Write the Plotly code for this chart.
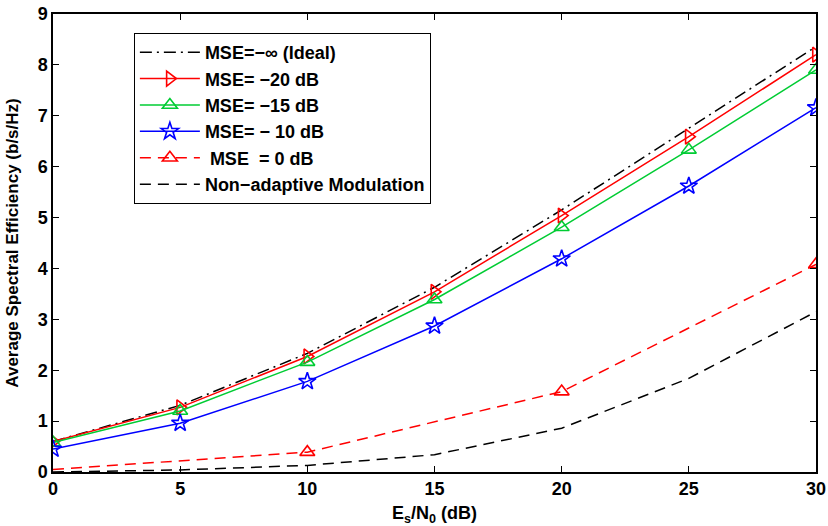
import plotly.graph_objects as go

snr = [0, 5, 10, 15, 20, 25, 30]
ideal = [0.60, 1.31, 2.33, 3.63, 5.15, 6.76, 8.36]
mse_m20 = [0.60, 1.27, 2.27, 3.54, 5.04, 6.59, 8.20]
mse_m15 = [0.58, 1.20, 2.16, 3.39, 4.81, 6.33, 7.90]
mse_m10 = [0.45, 0.96, 1.78, 2.87, 4.19, 5.62, 7.16]
snr_0db = [0, 10, 20, 30]
mse_0 = [0.05, 0.39, 1.58, 4.08]
nonadapt = [0.0, 0.04, 0.13, 0.34, 0.86, 1.84, 3.15]

legend_names = [
    "MSE=\u2212\u221e (Ideal)",
    "MSE= \u221220 dB",
    "MSE= \u221215 dB",
    "MSE= \u2212 10 dB",
    "&nbsp;MSE&nbsp;&nbsp;= 0 dB",
    "Non\u2212adaptive Modulation",
]

FONT = "Liberation Sans"
GREEN = "#00cc33"
MS = 13

fig = go.Figure()
fig.add_trace(go.Scatter(x=snr, y=ideal, mode="lines", name=legend_names[0],
                         line=dict(color="black", width=1.5, dash="12px,5px,2px,5px")))
fig.add_trace(go.Scatter(x=snr, y=mse_m20, mode="lines+markers", name=legend_names[1],
                         line=dict(color="#ff0000", width=1.5),
                         marker=dict(symbol="triangle-right-open", size=MS, color="#ff0000", line=dict(width=1.6))))
fig.add_trace(go.Scatter(x=snr, y=mse_m15, mode="lines+markers", name=legend_names[2],
                         line=dict(color=GREEN, width=1.5),
                         marker=dict(symbol="triangle-up-open", size=MS, color=GREEN, line=dict(width=1.6))))
fig.add_trace(go.Scatter(x=snr, y=mse_m10, mode="lines+markers", name=legend_names[3],
                         line=dict(color="#0000ff", width=1.5),
                         marker=dict(symbol="star-open", size=MS, color="#0000ff", line=dict(width=1.6))))
# MSE = 0 dB: dashed line through all points, markers on all but the first point
fig.add_trace(go.Scatter(x=snr_0db, y=mse_0, mode="lines", name=legend_names[4],
                         legendgroup="mse0", showlegend=False,
                         line=dict(color="#ff0000", width=1.5, dash="11px,7px")))
fig.add_trace(go.Scatter(x=snr_0db[1:], y=mse_0[1:], mode="markers", name=legend_names[4],
                         legendgroup="mse0", showlegend=False,
                         marker=dict(symbol="triangle-up-open", size=MS, color="#ff0000", line=dict(width=1.6))))
fig.add_trace(go.Scatter(x=[None], y=[None], mode="lines+markers", name=legend_names[4],
                         legendgroup="mse0",
                         line=dict(color="#ff0000", width=1.5, dash="11px,7px"),
                         marker=dict(symbol="triangle-up-open", size=MS, color="#ff0000", line=dict(width=1.6))))
fig.add_trace(go.Scatter(x=snr, y=nonadapt, mode="lines", name=legend_names[5],
                         line=dict(color="black", width=1.5, dash="11px,7px")))

axis_common = dict(
    showgrid=False, zeroline=False, showline=True, linecolor="black", linewidth=1.5,
    mirror="ticks", ticks="inside", ticklen=6, tickcolor="black", tickwidth=1,
    automargin=False,
    tickfont=dict(family=FONT, size=18, color="black", weight="bold"),
)
fig.update_xaxes(range=[0, 30], tickvals=[0, 5, 10, 15, 20, 25, 30],
                 title=dict(text="E<sub>s</sub>/N<sub>0</sub> (dB)",
                            font=dict(family=FONT, size=18, color="black", weight="bold")),
                 **axis_common)
fig.update_yaxes(range=[0, 9], tickvals=list(range(10)),
                 title=dict(text="Average Spectral Efficiency (b/s/Hz)",
                            font=dict(family=FONT, size=17, color="black", weight="bold")),
                 **axis_common)

fig.update_layout(
    width=828, height=526,
    margin=dict(l=53, r=12, t=14, b=53.5),
    plot_bgcolor="white", paper_bgcolor="white",
    legend=dict(x=0.106, y=0.9586, xanchor="left", yanchor="top",
                bordercolor="black", borderwidth=1, bgcolor="white",
                font=dict(family=FONT, size=18, color="black", weight="bold"),
                itemwidth=60, tracegroupgap=0),
    showlegend=True,
)

fig.write_html("out.html")
